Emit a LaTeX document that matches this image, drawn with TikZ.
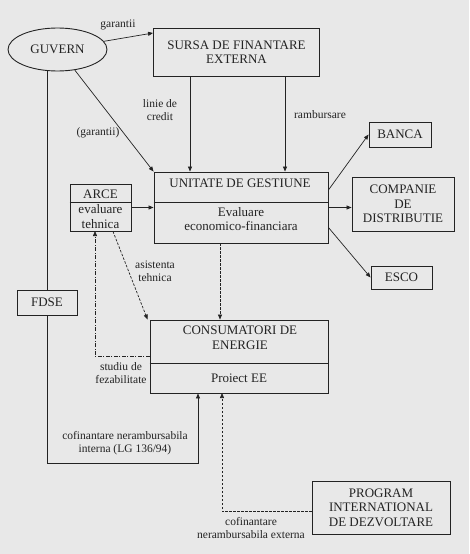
\documentclass[tikz,border=0pt]{standalone}
\usepackage{fontspec}
\setmainfont{Liberation Serif}
\usetikzlibrary{arrows.meta,shapes.geometric}
\definecolor{bgc}{RGB}{232,232,232}
\definecolor{ink}{RGB}{35,35,35}
\begin{document}
\begin{tikzpicture}[x=1pt,y=-1pt,
  box/.style={draw=ink, line width=0.9pt, rectangle, inner sep=0pt, align=center, text=ink,
              font=\fontsize{13}{14.5}\selectfont},
  txt/.style={inner sep=0pt, align=center, text=ink, font=\fontsize{13}{14.5}\selectfont},
  lbl/.style={inner sep=0pt, align=center, text=ink, font=\fontsize{11.5}{12.7}\selectfont},
  conn/.style={draw=ink, line width=0.7pt},
  arr/.style={-{Triangle[length=5pt,width=4pt]}},
  dsh/.style={dash pattern=on 2.5pt off 1.5pt},
  dshdot/.style={dash pattern=on 4pt off 1.5pt on 1pt off 1.5pt}]
\fill[bgc] (0,0) rectangle (469,554);
\useasboundingbox (0,0) rectangle (469,554);

% nodes
\node[ellipse, draw=ink, line width=0.9pt, minimum width=99pt, minimum height=43pt, inner sep=0pt,
      text=ink, font=\fontsize{13}{14.5}\selectfont] (guv) at (57.5,49.5) {GUVERN};
\node[box, minimum width=166pt, minimum height=48pt] (sursa) at (236.5,52) {SURSA DE FINANTARE\\EXTERNA};
\node[box, minimum width=174pt, minimum height=71pt] (unit) at (241,207.5) {};
\node[txt] (unitT) at (240,183.5) {UNITATE DE GESTIUNE};
\node[txt] (unitB) at (241,219) {Evaluare\\economico-financiara};
\node[box, minimum width=61pt, minimum height=47pt] (arce) at (100.5,207.5) {};
\node[txt] (arceT) at (100.5,194) {ARCE};
\node[txt] (arceB) at (100.5,216.5) {evaluare\\tehnica};
\node[box, minimum width=62pt, minimum height=25pt] (banca) at (400,134.5) {BANCA};
\node[box, minimum width=102pt, minimum height=54pt] (comp) at (403,204) {COMPANIE\\DE\\DISTRIBUTIE};
\node[box, minimum width=61pt, minimum height=23pt] (esco) at (401.5,277.5) {ESCO};
\node[box, minimum width=60pt, minimum height=25pt] (fdse) at (47,302.5) {FDSE};
\node[box, minimum width=178pt, minimum height=73pt] (cons) at (239,356.5) {};
\node[txt] (consT) at (240,338) {CONSUMATORI DE\\ENERGIE};
\node[txt] (consB) at (239,378) {Proiect EE};
\node[box, minimum width=138pt, minimum height=53pt] (prog) at (381,507.5) {PROGRAM\\INTERNATIONAL\\DE DEZVOLTARE};

% dividers
\draw[ink, line width=0.9pt] (unit.west |- 0,202) -- (unit.east |- 0,202);
\draw[ink, line width=0.9pt] (arce.west |- 0,202) -- (arce.east |- 0,202);
\draw[ink, line width=0.9pt] (cons.west |- 0,363) -- (cons.east |- 0,363);

% helper coordinates
\coordinate (xL) at (190,0);
\coordinate (xR) at (285,0);
\coordinate (xU) at (220,0);
\coordinate (st) at (95,231);
\coordinate (lgA) at (198,463);
\coordinate (xE) at (222,393);

% connectors
\draw[conn,arr] (guv.10) -- ([yshift=19pt]sursa.west);
\draw[conn,arr] (guv.-50) -- (unit.north west);
\draw[conn,arr] (sursa.south -| xL) -- (unit.north -| xL);
\draw[conn,arr] (sursa.south -| xR) -- (unit.north -| xR);
\draw[conn,arr] (arce.east) -- (arce.east -| unit.west);
\draw[conn,arr] ([yshift=17.5pt]unit.east) -- (banca.west);
\draw[conn,arr] (unit.east) -- (unit.east -| comp.west);
\draw[conn,arr] ([yshift=-20pt]unit.east) -- (esco.west);
\draw[conn,arr,dsh] (unit.south -| xU) -- (cons.north -| xU);
\draw[conn,arr,dsh] ([xshift=12.5pt]arce.south) -- ([xshift=-2pt]cons.north west);
\draw[conn,arr,dshdot] (cons.west) -| (st);
\draw[conn] (guv.south -| fdse.north) -- (fdse.north);
\draw[conn,arr] (fdse.south) |- (lgA) -- (lgA |- cons.south);
\draw[conn,arr,dsh] ([yshift=-4pt]prog.west) -| (xE);

% labels
\node[lbl] (l1) at (118,25) {garantii};
\node[lbl] (l2) at (160,110) {linie de\\credit};
\node[lbl] (l3) at (320,115) {rambursare};
\node[lbl] (l4) at (98,133) {(garantii)};
\node[lbl] (l5) at (155,271) {asistenta\\tehnica};
\node[lbl] (l6) at (121,373) {studiu de\\fezabilitate};
\node[lbl] (l7) at (125,443.5) {cofinantare nerambursabila\\interna (LG 136/94)};
\node[lbl] (l8) at (251,528) {cofinantare\\nerambursabila externa};
\end{tikzpicture}
\end{document}
